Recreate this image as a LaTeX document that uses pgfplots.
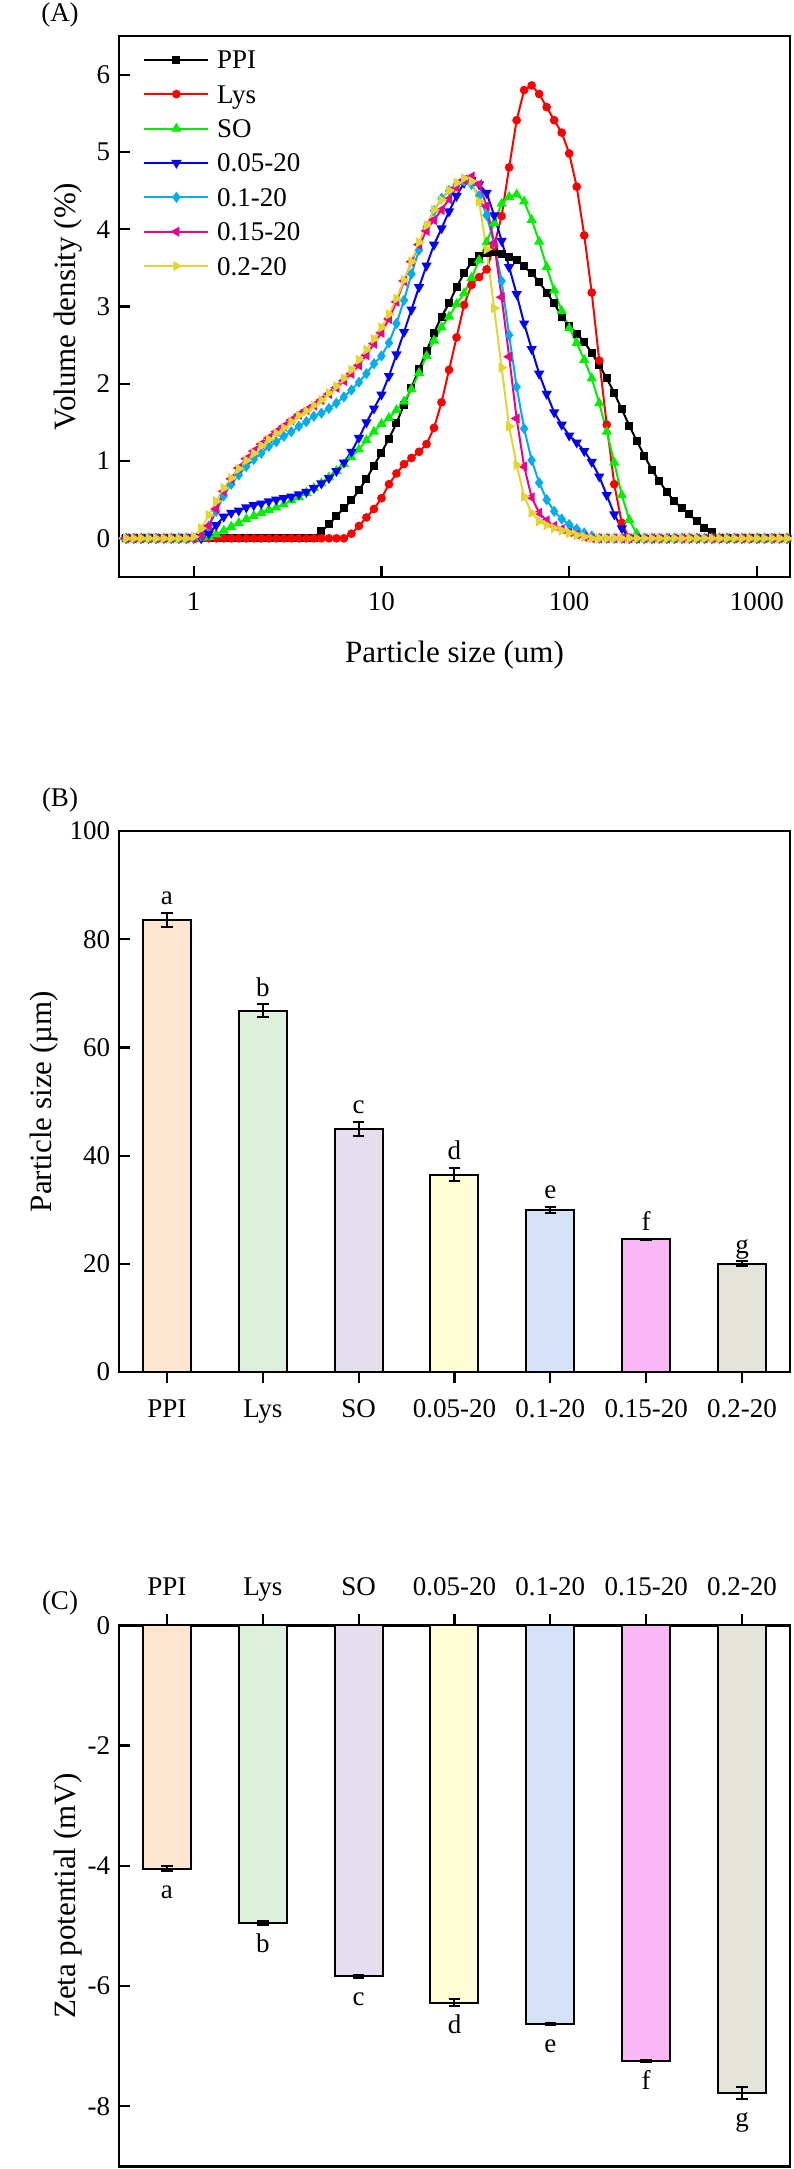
\documentclass[border=0pt]{standalone}
\usepackage{fontspec}
\setmainfont{Liberation Serif}
\usepackage{pgfplots}
\usepackage{pgfplotstable}
\pgfplotsset{compat=1.18}
\newcommand{\tkf}{\fontsize{13.5}{16}\selectfont}
\newcommand{\lbf}{\fontsize{15.5}{18}\selectfont}
\definecolor{cgreen}{RGB}{0,240,0}
\definecolor{cyel}{RGB}{228,214,46}
\definecolor{bPPI}{RGB}{253,229,208}
\definecolor{bLys}{RGB}{220,240,220}
\definecolor{bSO}{RGB}{228,222,238}
\definecolor{bA}{RGB}{255,253,214}
\definecolor{bB}{RGB}{213,226,248}
\definecolor{bC}{RGB}{251,184,246}
\definecolor{bD}{RGB}{228,228,218}

\pgfplotstableread{
x ppi lys so a b c d
0.3981 0 0 0 0 0 0 0
0.4365 0 0 0 0 0 0 0
0.4786 0 0 0 0 0 0 0
0.5248 0 0 0 0 0 0 0
0.5754 0 0 0 0 0 0 0
0.6310 0 0 0 0 0 0 0
0.6918 0 0 0 0 0 0 0
0.7586 0 0 0 0 0 0 0
0.8318 0 0 0 0 0 0 0
0.9120 0 0 0 0 0 0 0
1.0000 0 0 0 0 0 0 0.02
1.0965 0 0 0 0 0.03 0.03 0.13
1.2023 0 0 0.02 0.06 0.16 0.16 0.30
1.3183 0 0 0.05 0.17 0.35 0.38 0.48
1.4454 0 0 0.10 0.28 0.55 0.61 0.65
1.5849 0 0 0.15 0.33 0.70 0.77 0.78
1.7378 0 0 0.20 0.36 0.82 0.91 0.90
1.9055 0 0 0.25 0.40 0.93 1.03 1.01
2.0893 0 0 0.29 0.43 1.02 1.13 1.10
2.2909 0 0 0.33 0.45 1.10 1.22 1.20
2.5119 0 0 0.37 0.48 1.19 1.30 1.28
2.7542 0 0 0.40 0.50 1.25 1.38 1.36
3.0200 0 0 0.44 0.52 1.32 1.45 1.43
3.3113 0 0 0.49 0.54 1.38 1.53 1.51
3.6308 0 0 0.53 0.57 1.45 1.60 1.59
3.9811 0 0 0.59 0.60 1.51 1.66 1.65
4.3652 0.01 0 0.65 0.65 1.58 1.72 1.72
4.7863 0.09 0 0.71 0.71 1.62 1.79 1.79
5.2481 0.18 0 0.79 0.78 1.68 1.87 1.88
5.7544 0.29 0 0.87 0.87 1.75 1.95 1.97
6.3096 0.39 0 0.96 0.98 1.83 2.04 2.07
6.9183 0.49 0.06 1.05 1.12 1.92 2.13 2.18
7.5858 0.62 0.16 1.15 1.30 2.02 2.24 2.31
8.3176 0.77 0.27 1.27 1.50 2.13 2.37 2.44
9.1201 0.94 0.38 1.38 1.68 2.26 2.52 2.58
10.000 1.11 0.52 1.48 1.86 2.36 2.66 2.73
10.965 1.29 0.70 1.56 2.10 2.53 2.84 2.90
12.023 1.49 0.84 1.66 2.38 2.78 3.06 3.10
13.183 1.73 0.96 1.77 2.67 3.08 3.33 3.34
14.454 1.95 1.04 1.93 2.96 3.42 3.58 3.58
15.849 2.19 1.12 2.14 3.25 3.73 3.80 3.83
17.378 2.42 1.22 2.36 3.53 4.03 3.98 4.05
19.055 2.66 1.43 2.56 3.80 4.24 4.12 4.25
20.893 2.87 1.76 2.73 4.01 4.40 4.25 4.38
22.909 3.04 2.18 2.87 4.23 4.50 4.39 4.50
25.119 3.25 2.60 3.03 4.43 4.58 4.54 4.60
27.542 3.43 3.02 3.17 4.60 4.62 4.64 4.66
30.200 3.57 3.28 3.37 4.64 4.58 4.68 4.62
33.113 3.65 3.38 3.60 4.58 4.43 4.58 4.36
36.308 3.69 3.48 3.83 4.47 4.18 4.30 3.74
39.811 3.70 3.78 4.08 4.18 3.82 3.82 2.98
43.652 3.68 4.17 4.33 3.85 3.33 3.12 2.21
47.863 3.64 4.80 4.42 3.51 2.63 2.35 1.45
52.481 3.60 5.41 4.45 3.16 1.96 1.55 0.95
57.544 3.52 5.80 4.36 2.78 1.42 0.93 0.54
63.096 3.43 5.86 4.12 2.45 1.01 0.53 0.33
69.183 3.32 5.75 3.84 2.13 0.72 0.33 0.22
75.858 3.18 5.58 3.51 1.87 0.50 0.23 0.17
83.176 3.04 5.41 3.21 1.63 0.35 0.16 0.13
91.201 2.87 5.25 2.94 1.47 0.25 0.12 0.10
100.00 2.75 4.98 2.72 1.33 0.18 0.08 0.07
109.65 2.65 4.55 2.53 1.24 0.12 0.05 0.04
120.23 2.54 3.92 2.31 1.13 0.07 0.02 0.02
131.83 2.40 3.18 2.07 0.99 0.03 0 0
144.54 2.24 2.30 1.75 0.80 0 0 0
158.49 2.07 1.47 1.38 0.56 0 0 0
173.78 1.88 0.70 0.98 0.31 0 0 0
190.55 1.67 0.20 0.56 0.13 0 0 0
208.93 1.46 0 0.24 0 0 0 0
229.09 1.26 0 0.06 0 0 0 0
251.19 1.07 0 0 0 0 0 0
275.42 0.89 0 0 0 0 0 0
302.00 0.74 0 0 0 0 0 0
331.13 0.60 0 0 0 0 0 0
363.08 0.48 0 0 0 0 0 0
398.11 0.39 0 0 0 0 0 0
436.52 0.31 0 0 0 0 0 0
478.63 0.22 0 0 0 0 0 0
524.81 0.14 0 0 0 0 0 0
575.44 0.08 0 0 0 0 0 0
630.96 0.01 0 0 0 0 0 0
691.83 0 0 0 0 0 0 0
758.58 0 0 0 0 0 0 0
831.76 0 0 0 0 0 0 0
912.01 0 0 0 0 0 0 0
1000.0 0 0 0 0 0 0 0
1096.5 0 0 0 0 0 0 0
1202.3 0 0 0 0 0 0 0
1318.3 0 0 0 0 0 0 0
1445.4 0 0 0 0 0 0 0
1584.9 0 0 0 0 0 0 0
}\psd

\pgfplotsset{
  every axis/.append style={
    scale only axis, width=335.5pt, height=270.5pt,
    axis line style={line width=1.2pt},
    every tick/.style={line width=1.1pt, black},
    major tick length=5.5pt, tick align=inside,
    tick label style={font=\tkf},
    /pgf/number format/assume math mode=true,
    ytick pos=left,
    yticklabel style={xshift=-0.85pt},
  },
  mybar/.style={fill=#1, draw=black, line width=1pt, bar width=24pt, bar shift=0pt,
    error bars/.cd, y dir=both, y explicit,
    error bar style={line width=1pt, black},
    error mark options={rotate=90, mark size=2.9pt, line width=1pt, black}},
  cur/.style={line width=1pt, mark size=#1, mark options={solid}},
}

\begin{document}
\begin{tikzpicture}
\path[use as bounding box] (0,0) rectangle (396.5pt,-1084.5pt);

% ---------- (A) ----------
\node[font=\tkf] at (30pt,-7.5pt) {(A)};
\begin{axis}[at={(59.5pt,-18pt)}, anchor=north west,
  xmode=log, xmin=0.4, xmax=1500, ymin=-0.5, ymax=6.5,
  xtick={1,10,100,1000}, xticklabels={1,10,100,1000}, xminorticks=false,
  ytick={0,1,2,3,4,5,6}, yticklabels={0,1,2,3,4,5,6},
  xtick pos=left,
  xticklabel style={anchor=base, yshift=-17pt},
  xlabel={Particle size (um)}, ylabel={Volume density (\%)},
  every axis x label/.style={at={([yshift=-39pt]axis description cs:0.5,0)}, anchor=center, font=\lbf},
  every axis y label/.style={at={([xshift=-25.3pt]axis description cs:0,0.5)}, rotate=90, anchor=center, font=\lbf},
  legend style={at={(axis description cs:0,1)}, anchor=north west, xshift=12pt, yshift=-5.15pt,
    draw=none, fill=none, font=\tkf, row sep=4.2pt, column sep=3.85pt, inner sep=0pt,
    nodes={inner sep=0pt, text height=11pt, text depth=2pt}},
  legend cell align=left,
  legend image code/.code={\draw[mark repeat=2,mark phase=2,#1] plot coordinates {(0pt,0pt) (16pt,0pt) (32pt,0pt)};},
]
\addplot[cur=1.5pt, black, mark=square*] table[x=x,y=ppi]{\psd};
\addlegendentry{PPI}
\addplot[cur=1.65pt, red, mark=*] table[x=x,y=lys]{\psd};
\addlegendentry{Lys}
\addplot[cur=2pt, cgreen, mark=triangle*] table[x=x,y=so]{\psd};
\addlegendentry{SO}
\addplot[cur=2pt, blue, mark=triangle*, mark options={rotate=180}] table[x=x,y=a]{\psd};
\addlegendentry{0.05-20}
\addplot[cur=2pt, cyan, mark=diamond*] table[x=x,y=b]{\psd};
\addlegendentry{0.1-20}
\addplot[cur=2pt, magenta, mark=triangle*, mark options={rotate=90}] table[x=x,y=c]{\psd};
\addlegendentry{0.15-20}
\addplot[cur=2pt, cyel, mark=triangle*, mark options={rotate=-90}] table[x=x,y=d]{\psd};
\addlegendentry{0.2-20}
\end{axis}

% ---------- (B) ----------
\node[font=\tkf] at (30pt,-400pt) {(B)};
\begin{axis}[at={(59.5pt,-415.5pt)}, anchor=north west,
  ybar, xmin=-0.5, xmax=6.5, ymin=0, ymax=100,
  xtick={0,1,2,3,4,5,6}, xticklabels={PPI,Lys,SO,0.05-20,0.1-20,0.15-20,0.2-20},
  ytick={0,20,40,60,80,100}, yticklabels={0,20,40,60,80,100},
  xtick pos=left,
  xticklabel style={anchor=base, yshift=-17pt},
  ylabel={Particle size (µm)},
  every axis y label/.style={at={([xshift=-37.5pt]axis description cs:0,0.5)}, rotate=90, anchor=center, font=\lbf},
]
\addplot[mybar=bPPI] coordinates {(0,83.6) +- (0,1.3)};
\addplot[mybar=bLys] coordinates {(1,66.8) +- (0,1.2)};
\addplot[mybar=bSO] coordinates {(2,44.9) +- (0,1.35)};
\addplot[mybar=bA] coordinates {(3,36.5) +- (0,1.25)};
\addplot[mybar=bB] coordinates {(4,30.0) +- (0,0.55)};
\addplot[mybar=bC] coordinates {(5,24.5) +- (0,0.15)};
\addplot[mybar=bD] coordinates {(6,20.0) +- (0,0.45)};
\node[anchor=base, font=\tkf] at ([yshift=4pt]axis cs:0,84.9) {a};
\node[anchor=base, font=\tkf] at ([yshift=4pt]axis cs:1,68.0) {b};
\node[anchor=base, font=\tkf] at ([yshift=4pt]axis cs:2,46.25) {c};
\node[anchor=base, font=\tkf] at ([yshift=4pt]axis cs:3,37.75) {d};
\node[anchor=base, font=\tkf] at ([yshift=4pt]axis cs:4,30.55) {e};
\node[anchor=base, font=\tkf] at ([yshift=4pt]axis cs:5,24.65) {f};
\node[anchor=base, font=\tkf] at ([yshift=4pt]axis cs:6,20.45) {g};
\end{axis}

% ---------- (C) ----------
\node[font=\tkf] at (30pt,-801.5pt) {(C)};
\begin{axis}[at={(59.5pt,-812.65pt)}, anchor=north west,
  ybar, xmin=-0.5, xmax=6.5, ymin=-9, ymax=0,
  xtick={0,1,2,3,4,5,6}, xticklabels={PPI,Lys,SO,0.05-20,0.1-20,0.15-20,0.2-20},
  ytick={-8,-6,-4,-2,0}, yticklabels={-8,-6,-4,-2,0},
  xtick pos=right, xticklabel pos=right,
  xticklabel style={anchor=base, yshift=9.35pt},
  ylabel={Zeta potential (mV)},
  every axis y label/.style={at={([xshift=-25.3pt]axis description cs:0,0.5)}, rotate=90, anchor=center, font=\lbf},
]
\addplot[mybar=bPPI] coordinates {(0,-4.05) +- (0,0.04)};
\addplot[mybar=bLys] coordinates {(1,-4.95) +- (0,0.03)};
\addplot[mybar=bSO] coordinates {(2,-5.84) +- (0,0.03)};
\addplot[mybar=bA] coordinates {(3,-6.28) +- (0,0.06)};
\addplot[mybar=bB] coordinates {(4,-6.63) +- (0,0.02)};
\addplot[mybar=bC] coordinates {(5,-7.25) +- (0,0.02)};
\addplot[mybar=bD] coordinates {(6,-7.78) +- (0,0.10)};
\node[anchor=base, font=\tkf] at ([yshift=-13.75pt]axis cs:0,-4.09) {a};
\node[anchor=base, font=\tkf] at ([yshift=-13.75pt]axis cs:1,-4.98) {b};
\node[anchor=base, font=\tkf] at ([yshift=-13.75pt]axis cs:2,-5.87) {c};
\node[anchor=base, font=\tkf] at ([yshift=-13.75pt]axis cs:3,-6.34) {d};
\node[anchor=base, font=\tkf] at ([yshift=-13.75pt]axis cs:4,-6.65) {e};
\node[anchor=base, font=\tkf] at ([yshift=-13.75pt]axis cs:5,-7.27) {f};
\node[anchor=base, font=\tkf] at ([yshift=-13.75pt]axis cs:6,-7.88) {g};
\end{axis}
\end{tikzpicture}
\end{document}
